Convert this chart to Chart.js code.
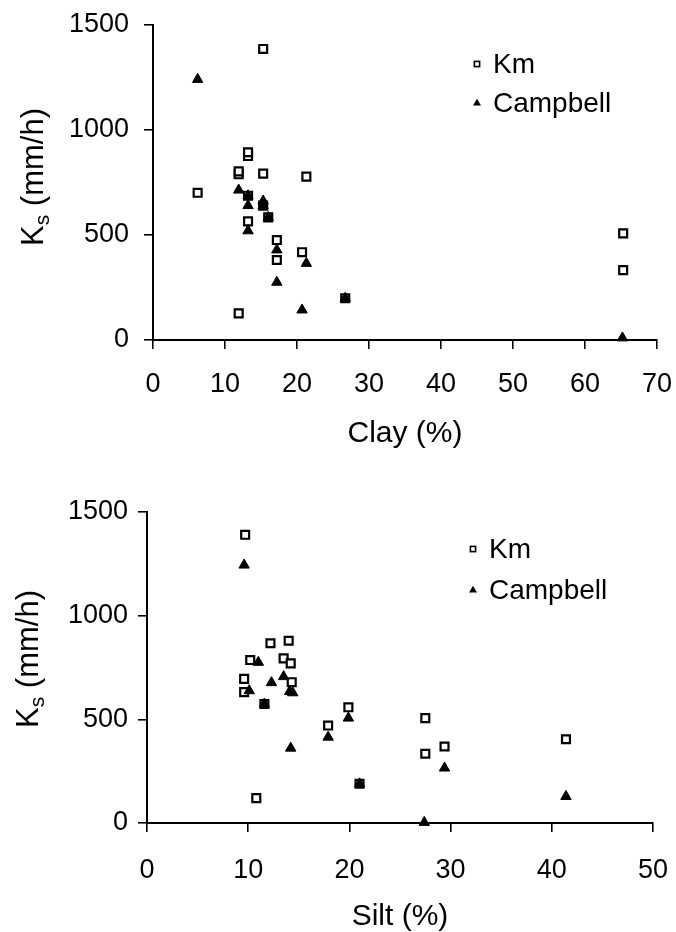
<!DOCTYPE html>
<html>
<head>
<meta charset="utf-8">
<script src="https://cdn.jsdelivr.net/npm/chart.js@4/dist/chart.umd.min.js"></script>
<style>
  html, body { margin: 0; padding: 0; background: #fff; }
  .box { position: absolute; left: 0; width: 676px; height: 466px; }
</style>
</head>
<body>
<div class="box" style="top:0"><canvas id="clay" width="676" height="466"></canvas></div>
<div class="box" style="top:466px"><canvas id="silt" width="676" height="466"></canvas></div>
<script>
// Ks vs clay content
const clayKmX = [6.2, 11.9, 11.9, 11.9, 13.2, 13.2, 13.2, 13.2, 15.3, 15.3, 15.3, 16.0, 17.2, 17.2, 20.7, 21.3, 26.7, 65.3, 65.3];
const clayKmY = [701, 127, 789, 803, 565, 687, 876, 894, 640, 792, 1386, 584, 381, 476, 418, 778, 199, 333, 508];
const clayCampX = [6.2, 11.9, 13.2, 13.2, 13.2, 15.3, 15.3, 16.0, 17.2, 17.2, 20.7, 21.3, 26.7, 65.2];
const clayCampY = [1241, 714, 687, 640, 520, 662, 640, 584, 429, 275, 143, 365, 199, 10];

// Ks vs silt content
const siltKmX = [9.7, 12.2, 14.0, 10.2, 13.5, 14.2, 9.6, 14.3, 9.6, 11.6, 17.9, 10.8, 19.9, 27.5, 27.5, 29.4, 41.4, 21.0];
const siltKmY = [1390, 867, 879, 786, 794, 770, 695, 679, 631, 574, 470, 120, 558, 506, 334, 369, 404, 189];
const siltCampX = [9.6, 11.0, 12.3, 13.5, 14.1, 14.4, 10.1, 17.9, 14.2, 19.9, 29.4, 27.4, 41.4, 11.6, 21.0];
const siltCampY = [1244, 775, 677, 706, 634, 628, 638, 414, 361, 506, 265, 3, 128, 574, 189];

const seriesNames = ['Km', 'Campbell'];
const yTicks = [0, 500, 1000, 1500];

const FONT = '"Liberation Sans", Arial, Helvetica, sans-serif';

function pts(xs, ys) {
  return xs.map((x, i) => ({x: x, y: ys[i]}));
}

// y title with subscript s, and the little legend inside the plot
const overlay = {
  id: 'overlay',
  afterDraw(chart, args, opts) {
    const ctx = chart.ctx;
    ctx.save();
    ctx.fillStyle = '#000';
    ctx.translate(opts.titleX, opts.titleY);
    ctx.rotate(-Math.PI / 2);
    const big = '31px ' + FONT, small = '21px ' + FONT;
    ctx.font = big;
    const wK = ctx.measureText('K').width;
    const wRest = ctx.measureText(' (mm/h)').width;
    ctx.font = small;
    const wS = ctx.measureText('s').width;
    let x = -(wK + wS + wRest) / 2;
    ctx.textBaseline = 'alphabetic';
    ctx.font = big; ctx.fillText('K', x, 0); x += wK;
    ctx.font = small; ctx.fillText('s', x, 6); x += wS;
    ctx.font = big; ctx.fillText(' (mm/h)', x, 0);
    ctx.restore();

    // legend
    ctx.save();
    ctx.font = '28px ' + FONT;
    ctx.textBaseline = 'middle';
    ctx.strokeStyle = '#000';
    const lx = opts.legendX, ly = opts.legendY;
    ctx.lineWidth = 1.6;
    ctx.fillStyle = '#fff';
    ctx.fillRect(lx - 2.6, ly - 2.6, 5.2, 5.2);
    ctx.strokeRect(lx - 2.6, ly - 2.6, 5.2, 5.2);
    ctx.fillStyle = '#000';
    ctx.fillText(seriesNames[0], lx + 16, ly + 1);
    const ty = ly + opts.legendGap;
    ctx.beginPath();
    ctx.moveTo(lx, ty - 4.2);
    ctx.lineTo(lx + 4, ty + 2.6);
    ctx.lineTo(lx - 4, ty + 2.6);
    ctx.closePath();
    ctx.fill();
    ctx.fillText(seriesNames[1], lx + 16, ty + 1);
    ctx.restore();
  }
};

const white = {
  id: 'white',
  beforeDraw(chart) {
    const ctx = chart.ctx;
    ctx.save();
    ctx.fillStyle = '#fff';
    ctx.fillRect(0, 0, chart.width, chart.height);
    ctx.restore();
  }
};

function makeChart(id, cfg) {
  const axisGrid = {
    display: true,
    drawOnChartArea: false,
    drawTicks: true,
    tickLength: 9,
    color: '#000',
    lineWidth: 1.6
  };
  return new Chart(document.getElementById(id), {
    type: 'scatter',
    data: {
      datasets: [
        {
          label: seriesNames[0],
          data: pts(cfg.kmX, cfg.kmY),
          pointStyle: 'rect',
          pointRadius: 5.6,
          pointBorderWidth: 2.2,
          pointBackgroundColor: '#fff',
          pointBorderColor: '#000',
          clip: false,
          order: 2
        },
        {
          label: seriesNames[1],
          data: pts(cfg.campX, cfg.campY),
          pointStyle: 'triangle',
          pointRadius: 6,
          pointBorderWidth: 1,
          pointBackgroundColor: '#000',
          pointBorderColor: '#000',
          clip: false,
          order: 1
        }
      ]
    },
    options: {
      responsive: false,
      animation: false,
      events: [],
      layout: { padding: cfg.padding },
      plugins: {
        legend: { display: false },
        tooltip: { enabled: false },
        overlay: cfg.overlay
      },
      scales: {
        x: {
          type: 'linear',
          min: 0,
          max: cfg.xMax,
          afterFit: (s) => {
            s.height = cfg.xHeight;
            s.paddingLeft = 0;
            s.paddingRight = 0;
          },
          ticks: {
            stepSize: 10,
            color: '#000',
            font: { family: FONT, size: 27 },
            padding: cfg.xPad,
            maxRotation: 0,
            callback: (v) => String(v)
          },
          grid: axisGrid,
          border: { display: true, color: '#000', width: 2 },
          title: {
            display: true,
            text: cfg.xTitle,
            color: '#000',
            font: { family: FONT, size: 30 },
            padding: { top: 0, bottom: cfg.titlePad }
          }
        },
        y: {
          type: 'linear',
          min: 0,
          max: 1500,
          afterFit: (s) => {
            s.width = cfg.yWidth;
            s.paddingTop = 0;
            s.paddingBottom = 0;
          },
          afterBuildTicks: (s) => { s.ticks = yTicks.map(v => ({value: v})); },
          ticks: {
            color: '#000',
            font: { family: FONT, size: 27 },
            padding: cfg.yPad,
            callback: (v) => String(v)
          },
          grid: axisGrid,
          border: { display: true, color: '#000', width: 2 }
        }
      }
    },
    plugins: [white, overlay]
  });
}

makeChart('clay', {
  kmX: clayKmX, kmY: clayKmY, campX: clayCampX, campY: clayCampY,
  xMax: 70, xTitle: 'Clay (%)',
  padding: { top: 25, right: 19, left: 0, bottom: 0 },
  yWidth: 153, xHeight: 126, xPad: 19, yPad: 15, titlePad: 14,
  overlay: { titleX: 43, titleY: 177, legendX: 477, legendY: 64, legendGap: 39 }
});

makeChart('silt', {
  kmX: siltKmX, kmY: siltKmY, campX: siltCampX, campY: siltCampY,
  xMax: 50, xTitle: 'Silt (%)',
  padding: { top: 46, right: 23, left: 0, bottom: 0 },
  yWidth: 147, xHeight: 109, xPad: 22, yPad: 10, titlePad: -3,
  overlay: { titleX: 38, titleY: 193, legendX: 473, legendY: 83, legendGap: 41 }
});
</script>
</body>
</html>
